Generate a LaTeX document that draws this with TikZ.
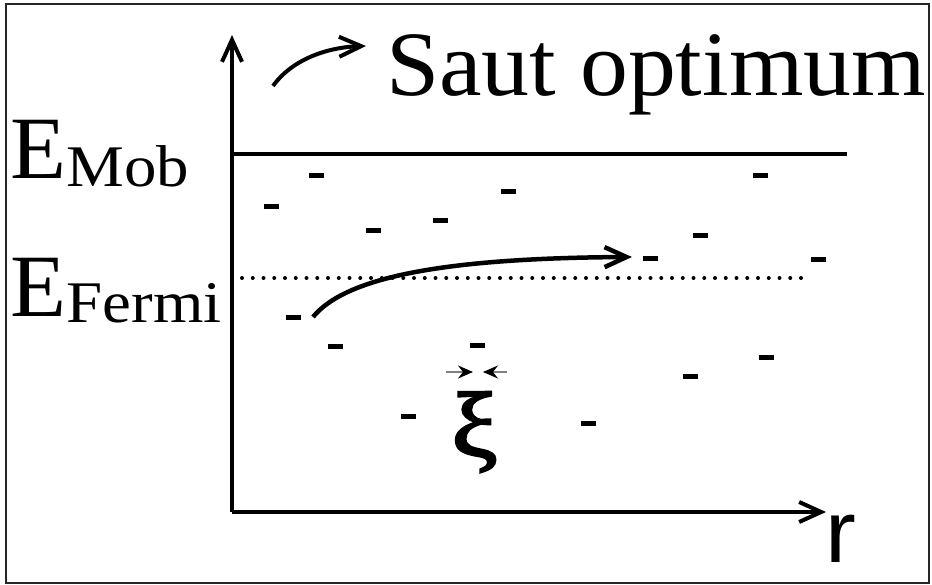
\documentclass[tikz,border=0pt]{standalone}
\usepackage{fontspec}
\setmainfont{Liberation Serif}
\newfontfamily\sansr{Liberation Sans}
\newfontfamily\xifont[FakeBold=2.5]{Liberation Serif}
\usetikzlibrary{arrows.meta}
\tikzset{
  thick4/.style={line width=4pt},
  barb/.style={-{Straight Barb[length=22pt,width=20pt]}},
  dashmark/.style={fill=black,inner sep=0pt,minimum width=15pt,minimum height=5pt},
  lbl/.style={inner sep=0pt,anchor=base west},
  xiarrow/.style={draw=gray,line width=1.3pt,-{Stealth[length=15pt,width=13pt,inset=5pt,color=black]}}
}
\newcommand{\bigE}{\fontsize{89}{95}\selectfont}
\newcommand{\subE}{\fontsize{59}{65}\selectfont}
\begin{document}
\begin{tikzpicture}[x=1pt,y=-1pt]
\useasboundingbox (0,0) rectangle (932,585);
% frame
\draw[line width=1.5pt,black!85] (6,4) rectangle (929,583);
% axes
\coordinate (O) at (232,512);
\coordinate (ytop) at (232,35);
\coordinate (xend) at (826,512);
\draw[thick4,barb] (O) -- (ytop);
\draw[thick4,barb] (O) -- (xend);
\node[font=\sansr\fontsize{88}{90}\selectfont,inner sep=0pt] (r) at (841,539) {\scalebox{1.05}[1]{r}};
% title with small arrow
\coordinate (sa1) at (273,86);
\coordinate (sa2) at (366,46);
\draw[thick4,barb] (sa1) .. controls (293,58) and (330,47) .. (sa2);
\node[lbl,font=\fontsize{92}{95}\selectfont] (title) at (386,96) {\scalebox{1.04}[1]{Saut optimum}};
% E_Mob
\node[lbl,font=\bigE] (emob) at (10,179) {\scalebox{1.03}[1]{E}};
\node[lbl,font=\subE] (emobsub) at (emob.base east) [yshift=-8pt] {\scalebox{1.1}[1]{Mob}};
\coordinate (mobL) at (232,154);
\coordinate (mobR) at (847,154);
\draw[thick4] (mobL) -- (mobR);
% E_Fermi
\node[lbl,font=\bigE] (efer) at (10,317) {\scalebox{1.03}[1]{E}};
\node[lbl,font=\subE] (efersub) at (efer.base east) [yshift=-6pt] {\scalebox{1.1}[1]{Fermi}};
\coordinate (ferL) at (242,278);
\coordinate (ferR) at (810,278);
\draw[line width=4pt,line cap=round,dash pattern=on 0pt off 10.75pt] (ferL) -- (ferR);
% dashes (localized states)
\node[dashmark] (d1) at (316,176) {};
\node[dashmark] (d2) at (271,207) {};
\node[dashmark] (d3) at (373,231) {};
\node[dashmark] (d4) at (440,221) {};
\node[dashmark] (d5) at (508,192) {};
\node[dashmark] (d6) at (760,176) {};
\node[dashmark] (d7) at (700,236) {};
\node[dashmark] (d8) at (650,259) {};
\node[dashmark] (d9) at (818,260) {};
\node[dashmark] (d10) at (293,318) {};
\node[dashmark] (d11) at (335,347) {};
\node[dashmark] (d12) at (477,346) {};
\node[dashmark] (d13) at (690,376) {};
\node[dashmark] (d14) at (766,358) {};
\node[dashmark] (d15) at (408,416) {};
\node[dashmark] (d16) at (588,423) {};
% hop arrow
\coordinate (h1) at (313,317);
\coordinate (h2) at (632,257);
\draw[line width=4.5pt,barb] (h1) .. controls (345,278) and (440,258) .. (h2);
% xi
\coordinate (xl) at (446,372);
\coordinate (xlt) at (473,372);
\coordinate (xr) at (507,372);
\coordinate (xrt) at (483,372);
\draw[xiarrow] (xl) -- (xlt);
\draw[xiarrow] (xr) -- (xrt);
\node[inner sep=0pt,font=\xifont\fontsize{92}{95}\selectfont] (xi) at (474.5,432) {\scalebox{1.12}[1]{ξ}};
\end{tikzpicture}
\end{document}
